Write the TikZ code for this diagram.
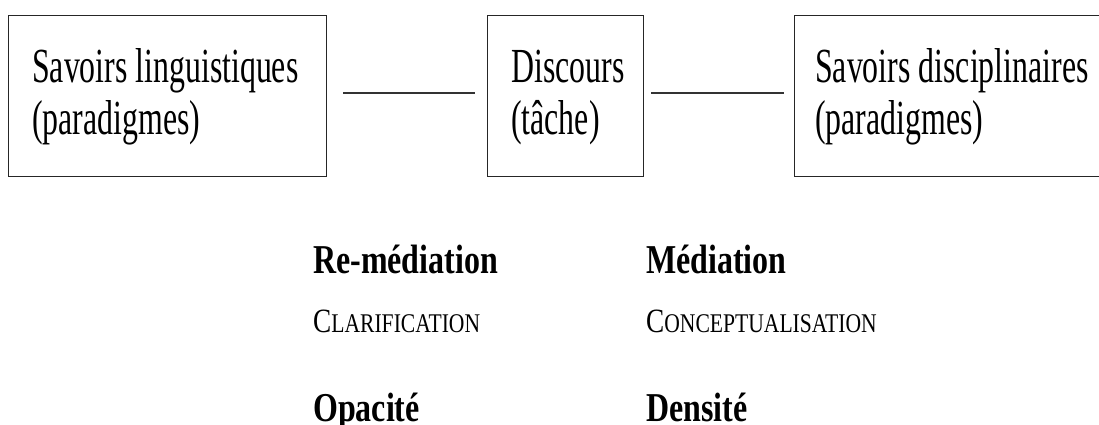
\documentclass[tikz,border=0pt]{standalone}
\usepackage{fontspec}
\setmainfont{Liberation Serif}
\newfontfamily\topfont[FakeStretch=0.65]{Liberation Serif}
\newfontfamily\botfont[FakeStretch=0.78]{Liberation Serif}
\newfontfamily\capfont[FakeStretch=0.8]{Liberation Serif}
\newcommand\mysmallcaps[2]{{\fontsize{34}{34}\selectfont #1}{\fontsize{27}{27}\selectfont #2}}
\newcommand\twolines[2]{\vtop{\baselineskip=52pt\hbox{#1}\hbox{#2}}}
\tikzset{
  box/.style={draw=black!85, line width=1.4pt, inner sep=0pt, anchor=north west},
  link/.style={draw=black!80, line width=2pt},
  boxtext/.style={anchor=base west, inner sep=0pt, font=\topfont\fontsize{49}{52}\selectfont},
  headtext/.style={anchor=base west, inner sep=0pt, font=\botfont\bfseries\fontsize{41}{41}\selectfont},
  subtext/.style={anchor=base west, inner sep=0pt, font=\capfont},
}
\begin{document}
\begin{tikzpicture}[x=1pt,y=-1pt]
\useasboundingbox (0,0) rectangle (1099,425);
\clip (0,0) rectangle (1099,425);
\node[box, minimum width=318pt, minimum height=161pt] (b1) at (8,15) {};
\node[box, minimum width=156pt, minimum height=161pt] (b2) at (487,15) {};
\node[box, minimum width=330pt, minimum height=161pt] (b3) at (794,15) {};
\coordinate (l1a) at (343,93);
\coordinate (l1b) at (475,93);
\coordinate (l2a) at (651,93);
\coordinate (l2b) at (784,93);
\draw[link] (l1a) -- (l1b);
\draw[link] (l2a) -- (l2b);
\node[boxtext] (t1) at (32,83) {\twolines{Savoirs linguistiques}{(paradigmes)}};
\node[boxtext] (t2) at (511,83) {\twolines{Discours}{(tâche)}};
\node[boxtext] (t3) at (815,83) {\twolines{Savoirs disciplinaires}{(paradigmes)}};
\node[headtext] (h1) at (313,273) {Re-médiation};
\node[headtext] (h2) at (646,273) {Médiation};
\node[subtext] (s1) at (313,332) {\mysmallcaps{C}{LARIFICATION}};
\node[subtext] (s2) at (646,332) {\mysmallcaps{C}{ONCEPTUALISATION}};
\node[headtext] (h3) at (313,421) {Opacité};
\node[headtext] (h4) at (646,421) {Densité};
\end{tikzpicture}
\end{document}
